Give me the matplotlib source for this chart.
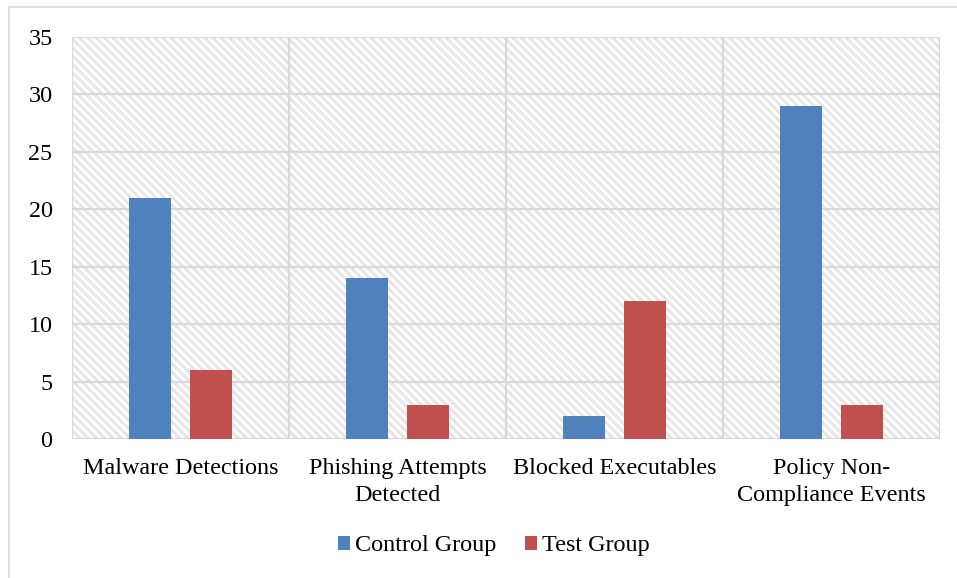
import numpy as np
import matplotlib.pyplot as plt
from matplotlib.patches import Rectangle

categories = ['Malware Detections', 'Phishing Attempts\nDetected',
              'Blocked Executables', 'Policy Non-\nCompliance Events']
control_group = [21, 14, 2, 29]
test_group = [6, 3, 12, 3]
y_ticks = [0, 5, 10, 15, 20, 25, 30, 35]

plt.rcParams['font.family'] = ['Liberation Serif', 'DejaVu Serif']
plt.rcParams['hatch.linewidth'] = 2.2
plt.rcParams['hatch.color'] = '#e6e6e6'
FS = 17.4

fig = plt.figure(figsize=(9.57, 5.78), dpi=100)
ax = fig.add_axes([72 / 957, 1 - 439 / 578, (940 - 72) / 957, (439 - 37) / 578])

# outer chart frame
fig.patches.append(Rectangle((9 / 957, -0.1), 1.2, 1 - 7 / 578 + 0.1,
                             transform=fig.transFigure, fill=False,
                             edgecolor='#d9d9d9', lw=1.2, zorder=0))

# hatched plot area
ax.add_patch(Rectangle((0, 0), 1, 1, transform=ax.transAxes, facecolor='white',
                       hatch='\\\\\\\\', edgecolor='#e6e6e6', lw=0, zorder=0))

x = np.arange(len(categories))
off = 30.25 / 217
w = 42 / 217
ax.bar(x - off, control_group, w, color='#4f81bd', label='Control Group', zorder=3)
ax.bar(x + off, test_group, w, color='#c0504d', label='Test Group', zorder=3)

ax.set_xlim(-0.5, 3.5)
ax.set_ylim(0, 35)
ax.set_yticks(y_ticks)
ax.set_xticks(x)
ax.set_xticklabels(categories, fontsize=FS, linespacing=1.35)
ax.tick_params(axis='y', labelsize=FS, length=0, pad=14)
ax.tick_params(axis='x', length=0, pad=14)

for yv in y_ticks:
    ax.axhline(yv, color='#d9d9d9', lw=1.6, zorder=1)
for xv in [-0.5, 0.5, 1.5, 2.5, 3.5]:
    ax.axvline(xv, color='#d9d9d9', lw=1.6, zorder=1)
for s in ax.spines.values():
    s.set_visible(False)

ax.legend(loc='center', bbox_to_anchor=(494 / 957, 1 - 546 / 578),
          bbox_transform=fig.transFigure, ncol=2, frameon=False,
          fontsize=FS, handlelength=0.5, handleheight=0.5,
          handletextpad=0.2, columnspacing=1.2)

fig.savefig('out.png', dpi=100)
